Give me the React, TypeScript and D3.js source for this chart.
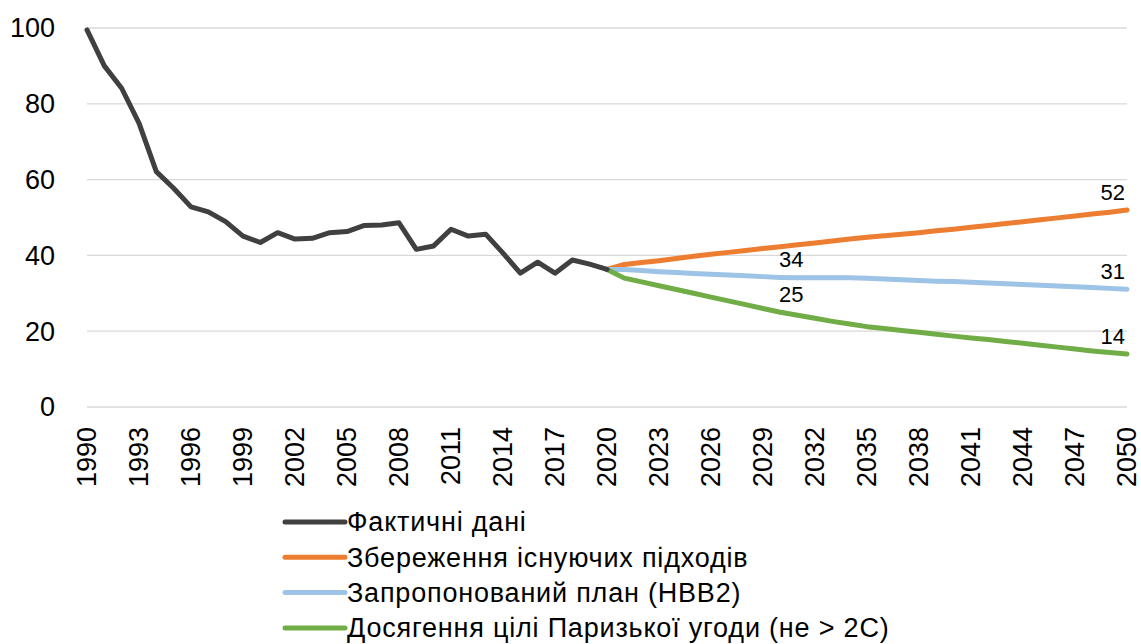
import React, { useEffect, useRef } from 'react';
import * as d3 from 'd3';

// historical data 1990-2020
const actualYears = d3.range(1990, 2021);
const actualValues = [
  99.5, 90.0, 84.1, 74.9, 62.1, 57.7, 52.8, 51.5, 48.9, 45.1,
  43.4, 46.0, 44.3, 44.5, 46.0, 46.3, 47.9, 48.0, 48.6, 41.6,
  42.5, 46.9, 45.1, 45.6, 40.6, 35.3, 38.2, 35.3, 38.8, 37.7,
  36.3,
];

// scenarios 2020-2050
const projYears = d3.range(2020, 2051);
const existingValues = [
  36.3, 37.6, 38.1, 38.6, 39.2, 39.8, 40.3, 40.8, 41.3, 41.8,
  42.3, 42.8, 43.3, 43.8, 44.3, 44.8, 45.2, 45.6, 46.0, 46.5,
  46.9, 47.4, 47.9, 48.4, 48.9, 49.4, 49.9, 50.4, 50.9, 51.4,
  52.0,
];
const planValues = [
  36.3, 36.3, 36.0, 35.7, 35.5, 35.2, 35.0, 34.8, 34.6, 34.4,
  34.2, 34.1, 34.1, 34.1, 34.1, 34.0, 33.8, 33.6, 33.4, 33.2,
  33.1, 32.9, 32.7, 32.5, 32.3, 32.1, 31.9, 31.7, 31.5, 31.3,
  31.1,
];
const parisValues = [
  36.3, 34.0, 33.0, 32.0, 31.0, 30.0, 29.0, 28.0, 27.0, 26.0,
  25.0, 24.2, 23.4, 22.6, 21.9, 21.2, 20.7, 20.2, 19.7, 19.2,
  18.7, 18.2, 17.8, 17.3, 16.8, 16.3, 15.8, 15.3, 14.8, 14.4,
  14.0,
];

const seriesNames = [
  'Фактичні дані',
  'Збереження існуючих підходів',
  'Запропонований план (НВВ2)',
  'Досягення цілі Паризької угоди (не > 2С)',
];
const seriesColors = ['#404040', '#ED7D31', '#9DC3E6', '#70AD47'];

const yTicks = [0, 20, 40, 60, 80, 100];
const xTicks = d3.range(1990, 2051, 3);

// labelled points: [series index, year, text]
const labels: [number, number, string][] = [
  [1, 2050, '52'],
  [2, 2030, '34'],
  [2, 2050, '31'],
  [3, 2030, '25'],
  [3, 2050, '14'],
];

const W = 1141;
const H = 644;
const FONT = '"Liberation Sans", Arial, sans-serif';

function Chart() {
  const ref = useRef<SVGSVGElement>(null);

  useEffect(() => {
    document.body.style.margin = '0';
    const svg = d3.select(ref.current);
    svg.selectAll('*').remove();

    const x = d3.scaleLinear().domain([1990, 2050]).range([87, 1127]);
    const y = d3.scaleLinear().domain([0, 100]).range([407, 28]);

    // gridlines
    svg.append('g').selectAll('line').data(yTicks).enter().append('line')
      .attr('x1', x(1990)).attr('x2', x(2050))
      .attr('y1', (d: number) => y(d)).attr('y2', (d: number) => y(d))
      .attr('stroke', '#d9d9d9').attr('stroke-width', 1.3);

    // y labels
    svg.append('g').selectAll('text').data(yTicks).enter().append('text')
      .attr('x', 55).attr('y', (d: number) => y(d))
      .attr('dy', '0.35em')
      .attr('text-anchor', 'end')
      .style('font-family', FONT).style('font-size', '27px').attr('fill', '#000')
      .text((d: number) => d);

    // x labels, rotated
    svg.append('g').selectAll('text').data(xTicks).enter().append('text')
      .attr('transform', (d: number) => `translate(${x(d) + 9},427) rotate(-90)`)
      .attr('text-anchor', 'end')
      .style('font-family', FONT).style('font-size', '27px').attr('fill', '#000')
      .text((d: number) => d);

    const line = d3.line<[number, number]>()
      .x(d => x(d[0])).y(d => y(d[1]));

    const series: [number, number][][] = [
      actualYears.map((yr, i) => [yr, actualValues[i]]),
      projYears.map((yr, i) => [yr, existingValues[i]]),
      projYears.map((yr, i) => [yr, planValues[i]]),
      projYears.map((yr, i) => [yr, parisValues[i]]),
    ];

    // draw projections first, actual on top
    [1, 2, 3, 0].forEach(si => {
      svg.append('path')
        .datum(series[si])
        .attr('d', line)
        .attr('fill', 'none')
        .attr('stroke', seriesColors[si])
        .attr('stroke-width', 5)
        .attr('stroke-linejoin', 'round')
        .attr('stroke-linecap', 'round');
    });

    // data labels
    svg.append('g').selectAll('text').data(labels).enter().append('text')
      .attr('x', (d: [number, number, string]) => d[1] === 2050 ? x(d[1]) - 2 : x(d[1]) + 11)
      .attr('y', (d: [number, number, string]) => {
        const s = series[d[0]].find(p => p[0] === d[1]);
        return y(s ? s[1] : 0) - 10;
      })
      .attr('text-anchor', (d: [number, number, string]) => d[1] === 2050 ? 'end' : 'middle')
      .style('font-family', FONT).style('font-size', '22px').attr('fill', '#000')
      .text((d: [number, number, string]) => d[2]);

    // legend
    const legend = svg.append('g').selectAll('g').data(seriesNames).enter().append('g')
      .attr('transform', (_d: string, i: number) => `translate(285,${522 + i * 35.3})`);
    legend.append('line')
      .attr('x1', 0).attr('x2', 60).attr('y1', 0).attr('y2', 0)
      .attr('stroke', (_d: string, i: number) => seriesColors[i])
      .attr('stroke-width', 5).attr('stroke-linecap', 'round');
    legend.append('text')
      .attr('x', 62).attr('dy', '0.35em')
      .style('font-family', FONT).style('font-size', '27px')
      .style('letter-spacing', '0.8px').attr('fill', '#000')
      .text((d: string) => d);
  }, []);

  return <svg ref={ref} width={W} height={H} style={{ display: 'block' }} />;
}

export default function App() {
  return <Chart />;
}
